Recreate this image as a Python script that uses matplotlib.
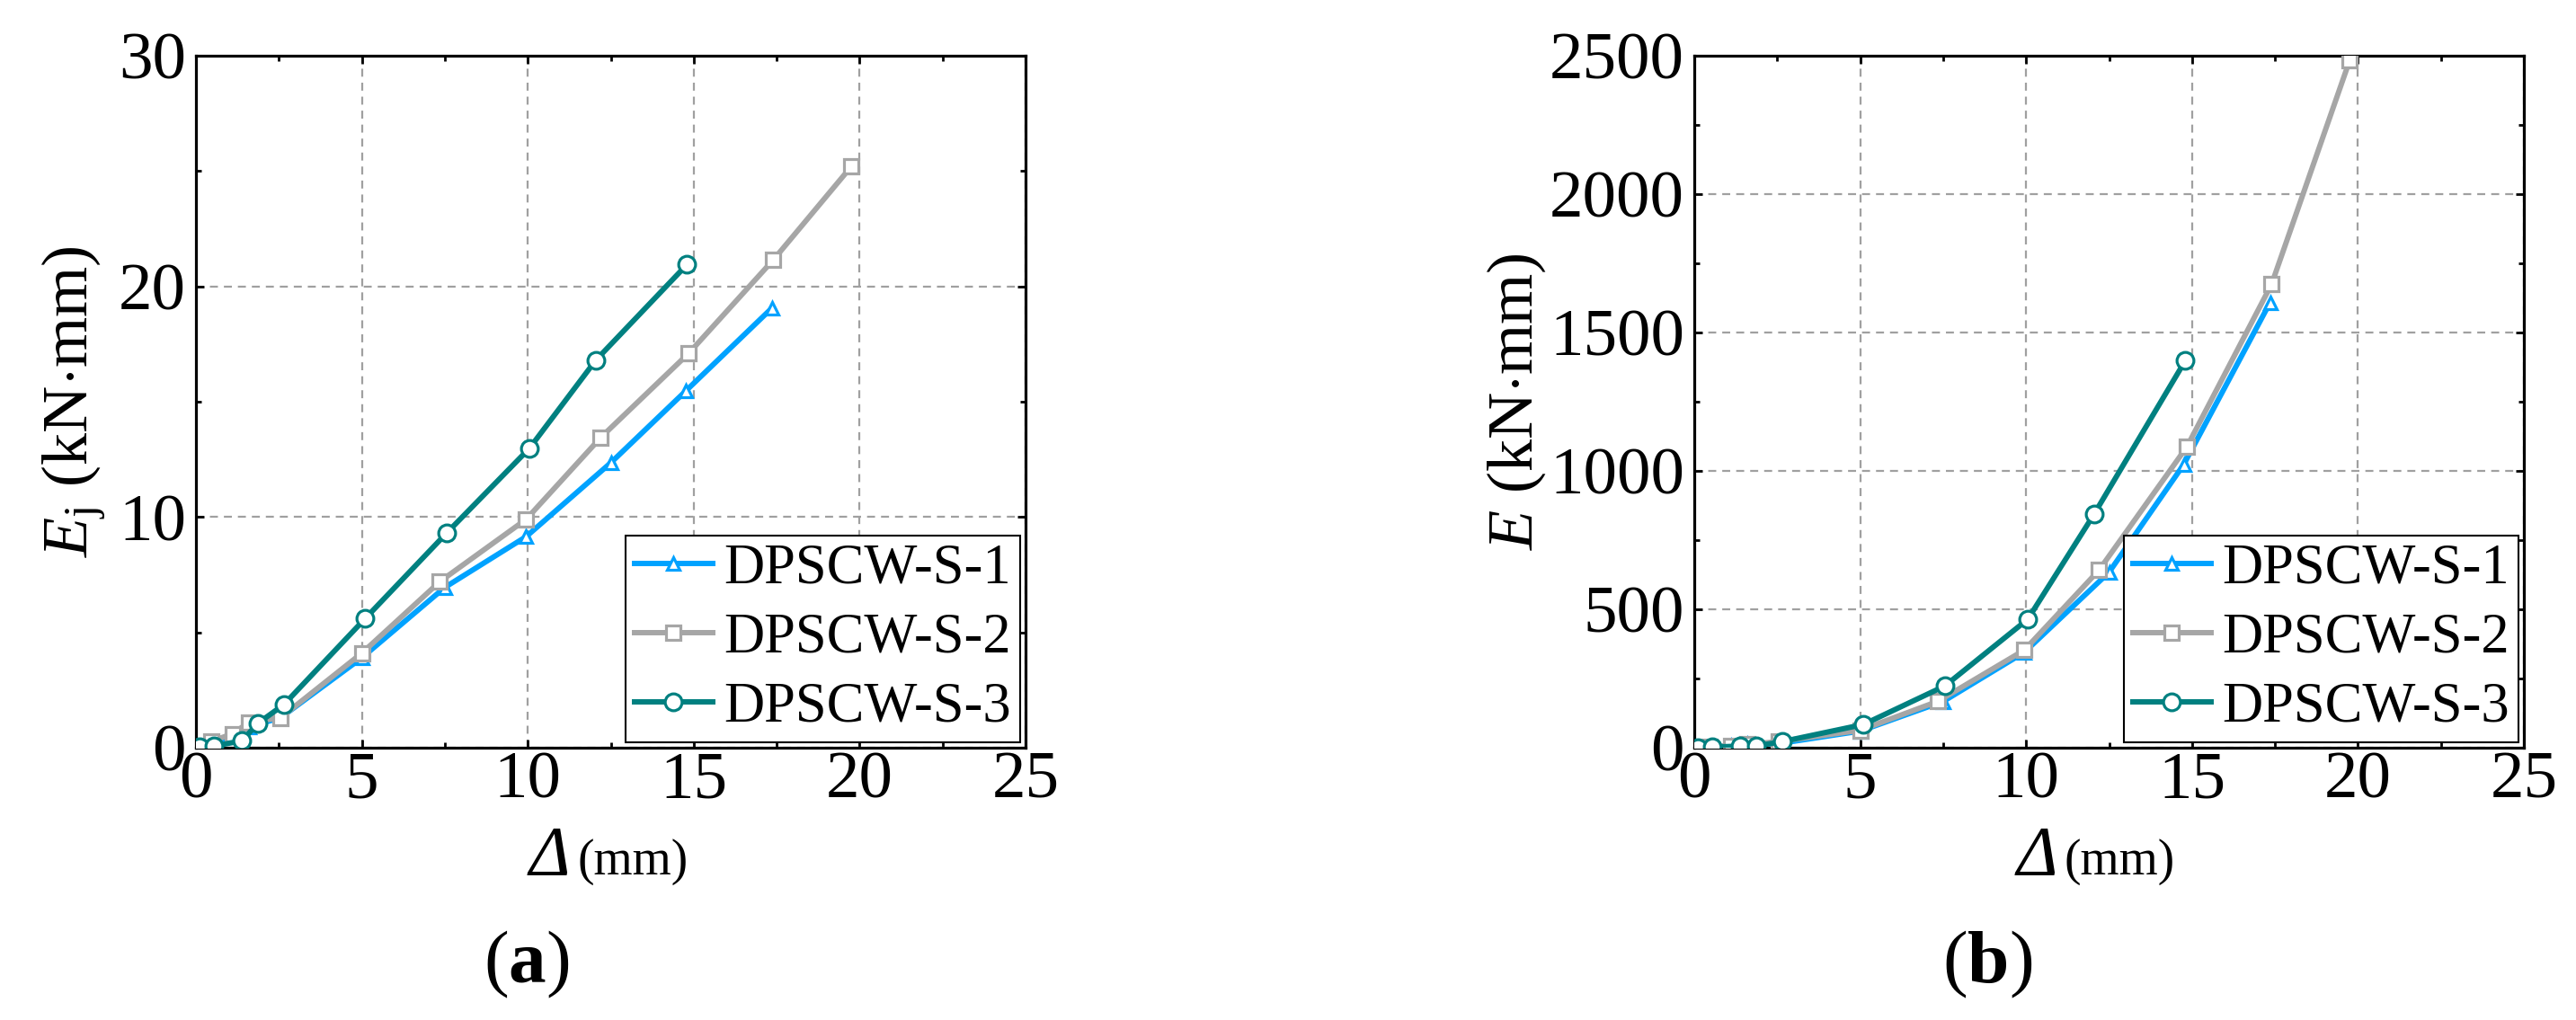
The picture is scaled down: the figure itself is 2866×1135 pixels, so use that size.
import numpy as np
import matplotlib
matplotlib.use("Agg")
import matplotlib.pyplot as plt
import matplotlib.transforms as mtransforms
from matplotlib.ticker import MultipleLocator

plt.rcParams['font.family'] = ['Liberation Serif', 'DejaVu Serif']
plt.rcParams['mathtext.fontset'] = 'custom'
plt.rcParams['mathtext.rm'] = 'Liberation Serif'
plt.rcParams['mathtext.it'] = 'Liberation Serif:italic'
plt.rcParams['mathtext.bf'] = 'Liberation Serif:bold'

# ---------------- data ----------------
series_names = ["DPSCW-S-1", "DPSCW-S-2", "DPSCW-S-3"]

d_s1 = [0.15, 0.5, 1.1, 1.6, 2.55, 5.0, 7.5, 9.95, 12.5, 14.75, 17.35]
d_s2 = [0.15, 0.45, 1.1, 1.6, 2.55, 5.0, 7.35, 9.95, 12.2, 14.85, 17.4, 19.75]
d_s3 = [0.12, 0.54, 1.39, 1.86, 2.65, 5.1, 7.55, 10.05, 12.05, 14.8]

# (a) Ej
ej_s1 = [0.05, 0.2, 0.5, 0.9, 1.3, 3.9, 6.95, 9.15, 12.35, 15.45, 19.05]
ej_s2 = [0.05, 0.27, 0.6, 1.1, 1.3, 4.1, 7.2, 9.9, 13.45, 17.1, 21.15, 25.2]
ej_s3 = [0.05, 0.07, 0.3, 1.05, 1.87, 5.6, 9.3, 12.98, 16.8, 20.95]

# (b) E
e_s1 = [0.5, 3, 8, 12, 15, 60, 167, 345, 634, 1023, 1608]
e_s2 = [0.5, 3, 8, 12, 22, 63, 168, 353, 642, 1088, 1675, 2483]
e_s3 = [0.5, 2, 6, 6, 22, 84, 223, 464, 844, 1399]

colors = ['#00A2FF', '#A6A6A6', '#008080']
markers = ['^', 's', 'o']
msizes = [10, 12, 13.5]

fig = plt.figure(figsize=(28.66, 11.35), dpi=100)
ax1 = fig.add_axes([218 / 2866, 1 - 832 / 1135, 923 / 2866, 770 / 1135])
ax2 = fig.add_axes([1885 / 2866, 1 - 832 / 1135, 923 / 2866, 770 / 1135])


def style_axis(ax, ymax, ystep, yminor):
    ax.set_xlim(0, 25)
    ax.set_ylim(0, ymax)
    ax.xaxis.set_major_locator(MultipleLocator(5))
    ax.xaxis.set_minor_locator(MultipleLocator(2.5))
    ax.yaxis.set_major_locator(MultipleLocator(ystep))
    ax.yaxis.set_minor_locator(MultipleLocator(yminor))
    ax.grid(True, which='major', color='#A0A0A0', linestyle=(0, (4, 3)), linewidth=1.6)
    ax.tick_params(which='both', direction='in', top=True, right=True, width=2, labelsize=54)
    ax.tick_params(which='major', length=6.5)
    ax.tick_params(which='minor', length=4)
    ax.tick_params(axis='x', pad=3)
    ax.tick_params(axis='y', pad=8)
    for sp in ax.spines.values():
        sp.set_linewidth(2.3)
    # nudge the x "0" a little right so it does not sit on the y "0"
    t0 = ax.xaxis.get_major_ticks()[0].label1
    t0.set_transform(t0.get_transform() +
                     mtransforms.ScaledTranslation(0.1, 0, fig.dpi_scale_trans))


def draw(ax, xs, ys):
    for x, y, c, m, ms, name in zip(xs, ys, colors, markers, msizes, series_names):
        ax.plot(x, y, color=c, linewidth=4.3, marker=m, markersize=ms,
                markerfacecolor='white', markeredgecolor=c, markeredgewidth=2.3,
                label=name, zorder=3)
    leg = ax.legend(loc='lower right', fontsize=45, frameon=True, fancybox=False,
                    edgecolor='black', framealpha=1, borderpad=0.15,
                    borderaxespad=0.1, handlelength=1.4, handletextpad=0.2,
                    labelspacing=0.3)
    leg.get_frame().set_linewidth(1.5)
    leg.set_zorder(5)


draw(ax1, [d_s1, d_s2, d_s3], [ej_s1, ej_s2, ej_s3])
draw(ax2, [d_s1, d_s2, d_s3], [e_s1, e_s2, e_s3])
style_axis(ax1, 30, 10, 5)
style_axis(ax2, 2500, 500, 250)

# y labels
ax1.set_ylabel(r'$E_{\mathrm{j}}$ (kN$\cdot$mm)', fontsize=52)
ax1.yaxis.set_label_coords(-0.105, 0.5)
ax2.set_ylabel(r'$E$ (kN$\cdot$mm)', fontsize=52)
ax2.yaxis.set_label_coords(-0.177, 0.5)

# x labels: italic Delta plus smaller unit
for ax, x0 in [(ax1, 0.402), (ax2, 0.388)]:
    ax.text(x0, -0.183, 'Δ', transform=ax.transAxes, fontstyle='italic',
            fontsize=56, ha='left', va='baseline')
    ax.text(x0 + 0.058, -0.183, '(mm)', transform=ax.transAxes,
            fontsize=40, ha='left', va='baseline')

# panel labels
fig.text(586 / 2866, 1 - 1093 / 1135, r'($\mathbf{a}$)', fontsize=60, ha='center', va='baseline')
fig.text(2211 / 2866, 1 - 1093 / 1135, r'($\mathbf{b}$)', fontsize=60, ha='center', va='baseline')

fig.savefig('out.png', dpi=100)
